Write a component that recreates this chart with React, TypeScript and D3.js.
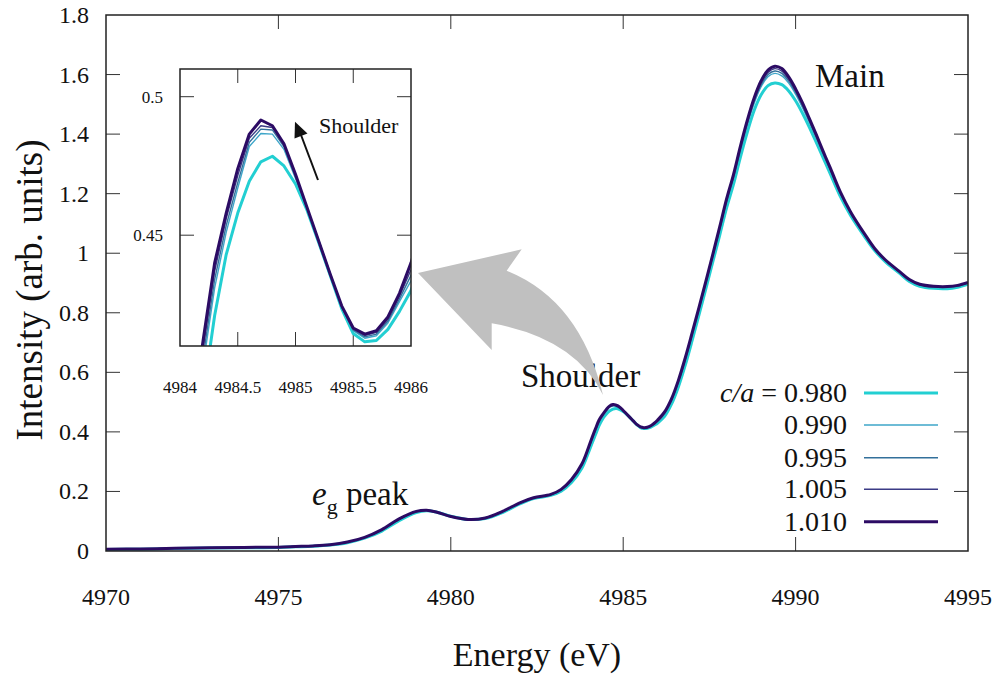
import React from "react";
import * as d3 from "d3";

const energy = [4970, 4971, 4972, 4973, 4974, 4975, 4975.5, 4976, 4976.5, 4977, 4977.5, 4978, 4978.5, 4979, 4979.3, 4979.6, 4980, 4980.5, 4981, 4981.5, 4982, 4982.4, 4982.9, 4983.2, 4983.5, 4983.8, 4984.0,
  4984.1, 4984.2, 4984.3, 4984.4, 4984.5, 4984.6, 4984.7, 4984.8, 4984.9, 4985.0, 4985.1, 4985.2, 4985.3, 4985.4, 4985.5, 4985.6, 4985.7, 4985.8, 4985.9, 4986.0,
  4986.2, 4986.4, 4986.6, 4986.8, 4987.0, 4987.2, 4987.4, 4987.6, 4987.8, 4988.0, 4988.2, 4988.4, 4988.6, 4988.8, 4989.0,
  4989.2, 4989.4, 4989.6, 4989.8, 4990.0, 4990.2, 4990.4, 4990.6, 4990.8, 4991.0,
  4991.3, 4991.6, 4992.0, 4992.3, 4992.6, 4993.0, 4993.3, 4993.6, 4994.0, 4994.4, 4994.7, 4995.0];

const ca0980 = [0.005, 0.006, 0.008, 0.010, 0.011, 0.012, 0.014, 0.016, 0.020, 0.028, 0.043, 0.067, 0.102, 0.129, 0.135, 0.130, 0.117, 0.106, 0.109, 0.129, 0.158, 0.176, 0.187, 0.201, 0.230, 0.278, 0.333,
  0.363, 0.392, 0.421, 0.443, 0.458, 0.4695, 0.4765, 0.4785, 0.475, 0.4685, 0.459, 0.4475, 0.4355, 0.4235, 0.4145, 0.4115, 0.4120, 0.416, 0.4225, 0.430,
  0.452, 0.493, 0.551, 0.624, 0.707, 0.794, 0.882, 0.972, 1.061, 1.153, 1.232, 1.323, 1.407, 1.480, 1.532,
  1.563, 1.572, 1.566, 1.545, 1.512, 1.470, 1.423, 1.372, 1.320, 1.268,
  1.190, 1.126, 1.056, 1.008, 0.972, 0.934, 0.905, 0.889, 0.882, 0.881, 0.886, 0.896];

const ca0990 = [0.006, 0.007, 0.009, 0.011, 0.012, 0.013, 0.015, 0.017, 0.021, 0.029, 0.045, 0.070, 0.105, 0.131, 0.136, 0.130, 0.116, 0.106, 0.110, 0.131, 0.160, 0.178, 0.189, 0.204, 0.235, 0.286, 0.343,
  0.373, 0.403, 0.431, 0.451, 0.467, 0.4820, 0.4867, 0.4865, 0.481, 0.4705, 0.4595, 0.448, 0.436, 0.4238, 0.4155, 0.4128, 0.4137, 0.4183, 0.426, 0.4335,
  0.460, 0.503, 0.5635, 0.638, 0.722, 0.808, 0.896, 0.986, 1.077, 1.170, 1.251, 1.344, 1.430, 1.504, 1.559,
  1.593, 1.604, 1.5955, 1.571, 1.534, 1.489, 1.439, 1.386, 1.332, 1.279,
  1.198, 1.1325, 1.061, 1.012, 0.975, 0.937, 0.909, 0.893, 0.886, 0.885, 0.889, 0.899];

const ca0995 = [0.006, 0.007, 0.009, 0.011, 0.012, 0.013, 0.015, 0.017, 0.021, 0.029, 0.045, 0.070, 0.106, 0.132, 0.136, 0.130, 0.116, 0.106, 0.110, 0.132, 0.161, 0.178, 0.189, 0.205, 0.237, 0.288, 0.345,
  0.376, 0.406, 0.434, 0.4535, 0.469, 0.4835, 0.4883, 0.488, 0.482, 0.471, 0.4597, 0.448, 0.436, 0.424, 0.4158, 0.4133, 0.4143, 0.4190, 0.427, 0.4355,
  0.4625, 0.506, 0.5665, 0.642, 0.7255, 0.812, 0.900, 0.990, 1.081, 1.174, 1.2555, 1.349, 1.435, 1.510, 1.565,
  1.600, 1.612, 1.604, 1.578, 1.540, 1.4945, 1.443, 1.390, 1.335, 1.282,
  1.2005, 1.134, 1.062, 1.013, 0.976, 0.938, 0.910, 0.894, 0.887, 0.886, 0.890, 0.900];

const ca1005 = [0.006, 0.007, 0.009, 0.011, 0.012, 0.013, 0.015, 0.017, 0.021, 0.030, 0.046, 0.071, 0.107, 0.132, 0.137, 0.130, 0.116, 0.106, 0.111, 0.132, 0.161, 0.179, 0.190, 0.206, 0.239, 0.290, 0.347,
  0.379, 0.409, 0.437, 0.456, 0.4715, 0.4850, 0.4895, 0.4889, 0.4825, 0.4715, 0.4598, 0.448, 0.436, 0.4243, 0.4162, 0.4138, 0.4149, 0.4197, 0.428, 0.4375,
  0.465, 0.508, 0.570, 0.645, 0.729, 0.815, 0.903, 0.993, 1.085, 1.1785, 1.260, 1.3545, 1.441, 1.5155, 1.572,
  1.607, 1.620, 1.6115, 1.5845, 1.5455, 1.4995, 1.4475, 1.394, 1.3385, 1.285,
  1.2025, 1.136, 1.0635, 1.014, 0.977, 0.939, 0.911, 0.895, 0.888, 0.887, 0.891, 0.901];

const ca1010 = [0.006, 0.007, 0.009, 0.011, 0.012, 0.013, 0.015, 0.017, 0.021, 0.030, 0.046, 0.072, 0.108, 0.133, 0.137, 0.130, 0.116, 0.106, 0.111, 0.133, 0.162, 0.179, 0.190, 0.207, 0.240, 0.292, 0.350,
  0.382, 0.412, 0.440, 0.458, 0.474, 0.4865, 0.4916, 0.4895, 0.483, 0.472, 0.460, 0.448, 0.436, 0.4245, 0.4165, 0.4143, 0.4155, 0.4205, 0.429, 0.440,
  0.467, 0.511, 0.573, 0.649, 0.733, 0.819, 0.907, 0.997, 1.089, 1.183, 1.265, 1.360, 1.447, 1.522, 1.579,
  1.615, 1.628, 1.620, 1.592, 1.552, 1.505, 1.452, 1.398, 1.342, 1.288,
  1.205, 1.138, 1.065, 1.015, 0.978, 0.940, 0.912, 0.896, 0.889, 0.888, 0.892, 0.902];

const seriesLabels = ["0.980", "0.990", "0.995", "1.005", "1.010"];
const seriesValues = [ca0980, ca0990, ca0995, ca1005, ca1010];
const seriesColors = ["#22cfd2", "#3ea6c9", "#33709b", "#3b3b86", "#2c0b64"];
const seriesWidths = [3, 1.4, 1.4, 1.4, 3];

const xTicks = [4970, 4975, 4980, 4985, 4990, 4995];
const yTicks = [0, 0.2, 0.4, 0.6, 0.8, 1, 1.2, 1.4, 1.6, 1.8];
const insetXTicks = [4984, 4984.5, 4985, 4985.5, 4986];
const insetYTicks = [0.45, 0.5];

const FONT = "'Liberation Serif', 'Times New Roman', serif";

export default function App() {
  const W = 998, H = 679;
  const x = d3.scaleLinear().domain([4970, 4995]).range([106, 968]);
  const y = d3.scaleLinear().domain([0, 1.8]).range([551, 15]);
  const ix = d3.scaleLinear().domain([4984, 4986]).range([180, 411]);
  const iy = d3.scaleLinear().domain([0.41, 0.51]).range([346, 69]);

  const mainLine = (vals: number[]) =>
    d3.line<number>().x((_, i) => x(energy[i])).y((v) => y(v)).curve(d3.curveCatmullRom.alpha(0.5))(vals) || "";
  const insetIdx = energy.map((e, i) => i).filter((i) => energy[i] >= 4983.8 && energy[i] <= 4986.2);
  const insetLine = (vals: number[]) =>
    d3.line<number>().x((i) => ix(energy[i])).y((i) => iy(vals[i]))(insetIdx) || "";

  const tickColor = "#333";
  const tl = 14;

  const arrowPath = "M418,273 L521.7,249.3 L506.7,270.7 Q580,300 603,395 Q575,338 491.7,323.3 L491.7,350 Z";

  const legendRows = [393, 425, 457.7, 489.3, 521.7];

  return (
    <svg width={W} height={H} style={{ position: "absolute", left: 0, top: 0, background: "#fff" }} fontFamily={FONT}>
      <rect x={0} y={0} width={W} height={H} fill="#fff" />
      <defs>
        <clipPath id="mainClip"><rect x={106} y={15} width={862} height={536} /></clipPath>
        <clipPath id="insetClip"><rect x={180} y={69} width={231} height={277} /></clipPath>
      </defs>

      {xTicks.slice(1, -1).map((t) => (
        <g key={"xt" + t} stroke={tickColor} strokeWidth={1}>
          <line x1={x(t)} x2={x(t)} y1={551} y2={551 - tl} />
          <line x1={x(t)} x2={x(t)} y1={15} y2={15 + tl} />
        </g>
      ))}
      {yTicks.slice(1, -1).map((t) => (
        <g key={"yt" + t} stroke={tickColor} strokeWidth={1}>
          <line x1={106} x2={106 + tl} y1={y(t)} y2={y(t)} />
          <line x1={968} x2={968 - tl} y1={y(t)} y2={y(t)} />
        </g>
      ))}
      {xTicks.map((t) => (
        <text key={"xl" + t} x={x(t)} y={605} fontSize={24} textAnchor="middle" fill="#111">{t}</text>
      ))}
      {yTicks.map((t) => (
        <text key={"yl" + t} x={89} y={y(t) + 8} fontSize={24} textAnchor="end" fill="#111">{d3.format("")(t)}</text>
      ))}

      <g clipPath="url(#mainClip)" fill="none" strokeLinejoin="round">
        {seriesValues.map((vals, k) => (
          <path key={"m" + k} d={mainLine(vals)} stroke={seriesColors[k]} strokeWidth={seriesWidths[k]} />
        ))}
      </g>

      <rect x={106} y={15} width={862} height={536} fill="none" stroke="#222" strokeWidth={1.5} />

      <text x={537} y={666} fontSize={34} textAnchor="middle" fill="#111">Energy (eV)</text>
      <text transform="translate(42,290) rotate(-90)" fontSize={37} textAnchor="middle" fill="#111">Intensity (arb. units)</text>

      <text x={815} y={87} fontSize={33} fill="#111">Main</text>
      <text x={521} y={387} fontSize={33} fill="#111">Shoulder</text>
      <text x={312} y={505} fontSize={33} fill="#111">
        <tspan fontStyle="italic">e</tspan>
        <tspan fontSize={22} dy={9}>g</tspan>
        <tspan dy={-9}> peak</tspan>
      </text>

      <path d={arrowPath} fill="#c0c0c0" />

      <rect x={180} y={69} width={231} height={277} fill="#fff" />
      {insetXTicks.slice(1, -1).map((t) => (
        <g key={"ixt" + t} stroke={tickColor} strokeWidth={1}>
          <line x1={ix(t)} x2={ix(t)} y1={346} y2={346 - tl} />
          <line x1={ix(t)} x2={ix(t)} y1={69} y2={69 + tl} />
        </g>
      ))}
      {insetYTicks.map((t) => (
        <g key={"iyt" + t} stroke={tickColor} strokeWidth={1}>
          <line x1={180} x2={180 + tl} y1={iy(t)} y2={iy(t)} />
          <line x1={411} x2={411 - tl} y1={iy(t)} y2={iy(t)} />
        </g>
      ))}
      {insetXTicks.map((t) => (
        <text key={"ixl" + t} x={ix(t)} y={393} fontSize={17} textAnchor="middle" fill="#111">{t}</text>
      ))}
      {insetYTicks.map((t) => (
        <text key={"iyl" + t} x={163} y={iy(t) + 6} fontSize={17} textAnchor="end" fill="#111">{t}</text>
      ))}
      <g clipPath="url(#insetClip)" fill="none" strokeLinejoin="round">
        {seriesValues.map((vals, k) => (
          <path key={"i" + k} d={insetLine(vals)} stroke={seriesColors[k]} strokeWidth={seriesWidths[k]} />
        ))}
      </g>
      <rect x={180} y={69} width={231} height={277} fill="none" stroke="#222" strokeWidth={1.5} />
      <text x={319} y={133} fontSize={22} fill="#111">Shoulder</text>
      <line x1={318} y1={180} x2={301} y2={135} stroke="#111" strokeWidth={2} />
      <path d="M295,121.7 L307.5,133.5 L294.5,138.4 Z" fill="#111" />

      {seriesLabels.map((lab, k) => (
        <g key={"lg" + k}>
          <text x={847} y={legendRows[k] + 9} fontSize={28} textAnchor="end" fill="#111">
            {k === 0 ? (<><tspan fontStyle="italic">c/a</tspan><tspan> = {lab}</tspan></>) : lab}
          </text>
          <line x1={864} x2={938} y1={legendRows[k]} y2={legendRows[k]} stroke={seriesColors[k]} strokeWidth={seriesWidths[k]} />
        </g>
      ))}
    </svg>
  );
}
